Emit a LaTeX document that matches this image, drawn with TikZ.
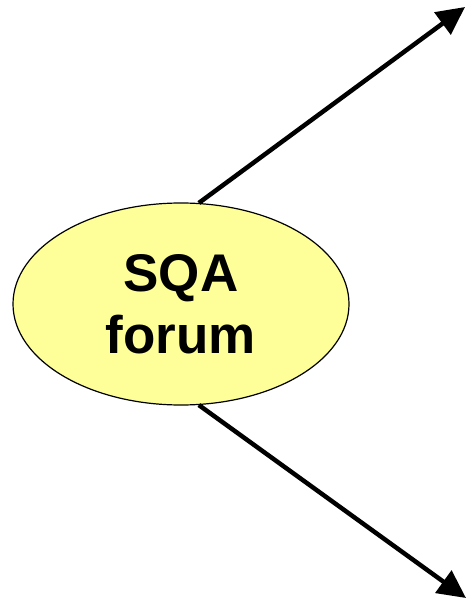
\documentclass[tikz,border=0pt]{standalone}
\usepackage{fontspec}
\setmainfont{Liberation Sans}
\usetikzlibrary{shapes.geometric, arrows.meta}
\definecolor{paleyellow}{HTML}{FFFF99}

\begin{document}
\begin{tikzpicture} [x = 1pt, y = -1pt,
  topic/.style = {ellipse, draw, line width = 1.2pt, fill = paleyellow,
    minimum width = 336pt, minimum height = 202pt, inner sep = 0pt,
    align = center, font = \fontsize{53}{62}\selectfont\bfseries},
  link/.style = {line width = 4.5pt, -{Triangle[length = 28pt, width = 27pt]}}]
\useasboundingbox (0,0) rectangle (468,601);
\node[topic] (forum) at (181,304) {SQA\\forum};
\coordinate (up) at (465,7);
\coordinate (down) at (466,598);
\draw[link] (forum.80) -- (up);
\draw[link] (forum.-80) -- (down);
\end{tikzpicture}
\end{document}
